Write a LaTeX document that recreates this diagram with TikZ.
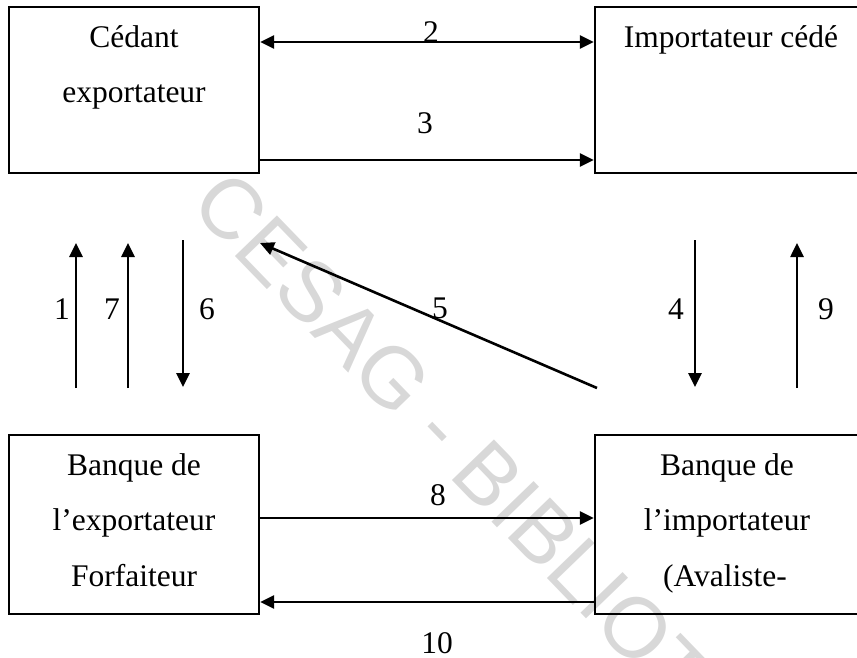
\documentclass[tikz,border=0pt]{standalone}
\usepackage{fontspec}
\setmainfont{Liberation Serif}
\newfontfamily\markfont{Liberation Sans}
\usetikzlibrary{arrows.meta}
\definecolor{wmgray}{RGB}{216,216,216}
\begin{document}
\begin{tikzpicture}[x=1pt,y=-1pt,
  >={Triangle[length=14pt,width=13pt]},
  box/.style={draw, line width=2.4pt, rectangle, inner sep=0pt},
  txt/.style={font=\fontsize{31.5}{38}\selectfont, anchor=base, inner sep=0pt},
  flow/.style={line width=2.6pt},
]
\useasboundingbox (0,0) rectangle (857,657);
\clip (0,0) rectangle (857,657);

% library stamp across the page
\node[font=\markfont\fontsize{85}{85}\selectfont, text=wmgray, rotate=-46,
      anchor=base, inner sep=0pt] (stamp) at (536,567) {CESAG - BIBLIOTHEQUE};

% the four parties
\node[box, minimum width=250pt, minimum height=166pt] (ced) at (134,90) {};
\node[box, minimum width=285pt, minimum height=166pt] (imp) at (737.5,90) {};
\node[box, minimum width=250pt, minimum height=179pt] (bex) at (134,524.5) {};
\node[box, minimum width=285pt, minimum height=179pt] (bim) at (737.5,524.5) {};

\node[txt] (ced1) at (134,47) {Cédant};
\node[txt] (ced2) at (134,102) {exportateur};
\node[txt] (imp1) at (731,47) {Importateur cédé};
\node[txt] (bex1) at (134,475) {Banque de};
\node[txt] (bex2) at (134,530) {l’exportateur};
\node[txt] (bex3) at (134,586) {Forfaiteur};
\node[txt] (bim1) at (727,475) {Banque de};
\node[txt] (bim2) at (727,530) {l’importateur};
\node[txt] (bim3) at (725,586) {(Avaliste-};

% horizontal flows
\draw[flow,<->] (ced.east |- 0,42) -- (imp.west |- 0,42);
\draw[flow,->] (ced.east |- 0,160) -- (imp.west |- 0,160);
\draw[flow,->] (bex.east |- 0,518) -- (bim.west |- 0,518);
\draw[flow,->] (bim.west |- 0,602) -- (bex.east |- 0,602);

% vertical and oblique flows
\coordinate (a1s) at (76,388);  \coordinate (a1e) at (76,243);
\coordinate (a7s) at (128,388); \coordinate (a7e) at (128,243);
\coordinate (a6s) at (183,240); \coordinate (a6e) at (183,387);
\coordinate (a4s) at (695,240); \coordinate (a4e) at (695,387);
\coordinate (a9s) at (797,388); \coordinate (a9e) at (797,243);
\coordinate (a5s) at (597,388); \coordinate (a5e) at (260,243);
\draw[flow,->] (a1s) -- (a1e);
\draw[flow,->] (a7s) -- (a7e);
\draw[flow,->] (a6s) -- (a6e);
\draw[flow,->] (a4s) -- (a4e);
\draw[flow,->] (a9s) -- (a9e);
\draw[flow,->] (a5s) -- (a5e);

% step numbers
\node[txt] (n2) at (431,42) {2};
\node[txt] (n3) at (425,133) {3};
\node[txt] (n8) at (438,505) {8};
\node[txt] (n10) at (437,653) {10};
\node[txt] (n1) at (62,319) {1};
\node[txt] (n7) at (112,319) {7};
\node[txt] (n6) at (207,319) {6};
\node[txt] (n5) at (440,318) {5};
\node[txt] (n4) at (676,319) {4};
\node[txt] (n9) at (826,319) {9};
\end{tikzpicture}
\end{document}
